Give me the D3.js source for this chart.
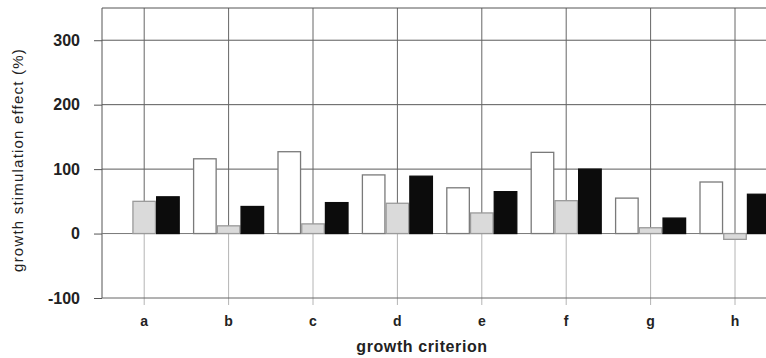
<!DOCTYPE html>
<html>
<head>
<meta charset="utf-8">
<script src="https://cdn.jsdelivr.net/npm/d3@7"></script>
<style>
  body { margin: 0; background: #fff; }
  svg text { font-family: "Liberation Sans", Arial, sans-serif; fill: #222; }
</style>
</head>
<body>
<div id="chart"></div>
<script>
const width = 766, height = 358;

// data
const categories = ["a", "b", "c", "d", "e", "f", "g", "h"];
const series = ["white", "grey", "black"];
const whiteValues = [0, 116, 127, 91, 71, 126, 55, 80];
const greyValues = [50, 12, 15, 47, 32, 51, 9, -9];
const blackValues = [57, 42, 48, 89, 65, 100, 24, 61];
const yTicks = [-100, 0, 100, 200, 300];

const values = {white: whiteValues, grey: greyValues, black: blackValues};
const style = {
  white: {fill: "#fff", stroke: "#7a7a7a"},
  grey: {fill: "#dadada", stroke: "#9a9a9a"},
  black: {fill: "#0c0c0c", stroke: "#0c0c0c"}
};

// plot box (right edge runs past the window, like the original)
const plotLeft = 102, plotTop = 8, plotBottom = 298, step = 84.4;

const x0 = d3.scaleBand()
  .domain(categories)
  .range([plotLeft, plotLeft + step * categories.length]);

// bars sit around the category centre
const x1 = d3.scaleBand()
  .domain(series)
  .range([-35, 35])
  .paddingInner(0.05);

const y = d3.scaleLinear()
  .domain([-100, 350])
  .range([plotBottom, plotTop]);

const svg = d3.select("#chart")
  .append("svg")
  .attr("width", width)
  .attr("height", height);

const cx = c => x0(c) + x0.bandwidth() / 2;

// horizontal grid
svg.append("g")
  .selectAll("line")
  .data(yTicks.filter(d => d > 0))
  .join("line")
  .attr("x1", plotLeft).attr("x2", width)
  .attr("y1", d => y(d)).attr("y2", d => y(d))
  .attr("stroke", "#5a5a5a");

// vertical grid: darker above zero, pale below
const vg = svg.append("g");
vg.selectAll(".vup")
  .data(categories)
  .join("line")
  .attr("class", "vup")
  .attr("x1", cx).attr("x2", cx)
  .attr("y1", plotTop).attr("y2", y(0))
  .attr("stroke", "#666");
vg.selectAll(".vdown")
  .data(categories)
  .join("line")
  .attr("class", "vdown")
  .attr("x1", cx).attr("x2", cx)
  .attr("y1", y(0)).attr("y2", plotBottom + 7)
  .attr("stroke", "#b4b4b4");

// frame
svg.append("line")
  .attr("x1", plotLeft).attr("x2", width)
  .attr("y1", plotTop).attr("y2", plotTop)
  .attr("stroke", "#555");
svg.append("line")
  .attr("x1", plotLeft).attr("x2", plotLeft)
  .attr("y1", plotTop).attr("y2", plotBottom)
  .attr("stroke", "#555");
svg.append("line")
  .attr("x1", plotLeft).attr("x2", width)
  .attr("y1", plotBottom).attr("y2", plotBottom)
  .attr("stroke", "#666");

// zero line
svg.append("line")
  .attr("x1", plotLeft).attr("x2", width)
  .attr("y1", y(0)).attr("y2", y(0))
  .attr("stroke", "#777");

// bars
const groups = svg.append("g")
  .selectAll("g")
  .data(categories)
  .join("g")
  .attr("transform", c => `translate(${cx(c)},0)`);

groups.selectAll("rect")
  .data((c, i) => series.map(s => ({s, v: values[s][i]})))
  .join("rect")
  .attr("x", d => x1(d.s))
  .attr("width", x1.bandwidth())
  .attr("y", d => y(Math.max(0, d.v)))
  .attr("height", d => Math.abs(y(d.v) - y(0)))
  .attr("fill", d => style[d.s].fill)
  .attr("stroke", d => style[d.s].stroke)
  .attr("stroke-width", 1.3);

// y axis (plain hyphen for the minus, as in the original)
const yAxis = svg.append("g")
  .attr("transform", `translate(${plotLeft},0)`)
  .call(d3.axisLeft(y).tickValues(yTicks).tickFormat(d => String(d)).tickSize(8).tickPadding(14));
yAxis.select(".domain").remove();
yAxis.selectAll("line").attr("stroke", "#555");
yAxis.selectAll("text")
  .attr("font-size", 16)
  .attr("font-weight", "bold")
  .attr("font-family", "Liberation Sans, Arial, sans-serif")
  .attr("fill", "#222");

// x labels
svg.append("g")
  .selectAll("text")
  .data(categories)
  .join("text")
  .attr("x", cx)
  .attr("y", 326)
  .attr("text-anchor", "middle")
  .attr("font-size", 14)
  .attr("font-weight", "bold")
  .text(d => d);

// axis titles
svg.append("text")
  .attr("x", 422)
  .attr("y", 352)
  .attr("text-anchor", "middle")
  .attr("font-size", 16)
  .attr("letter-spacing", 0.6)
  .attr("font-weight", "bold")
  .text("growth criterion");

svg.append("text")
  .attr("transform", "translate(23,160) rotate(-90)")
  .attr("text-anchor", "middle")
  .attr("font-size", 15)
  .attr("letter-spacing", 1.2)
  .attr("fill", "#333")
  .text("growth stimulation effect (%)");
</script>
</body>
</html>
